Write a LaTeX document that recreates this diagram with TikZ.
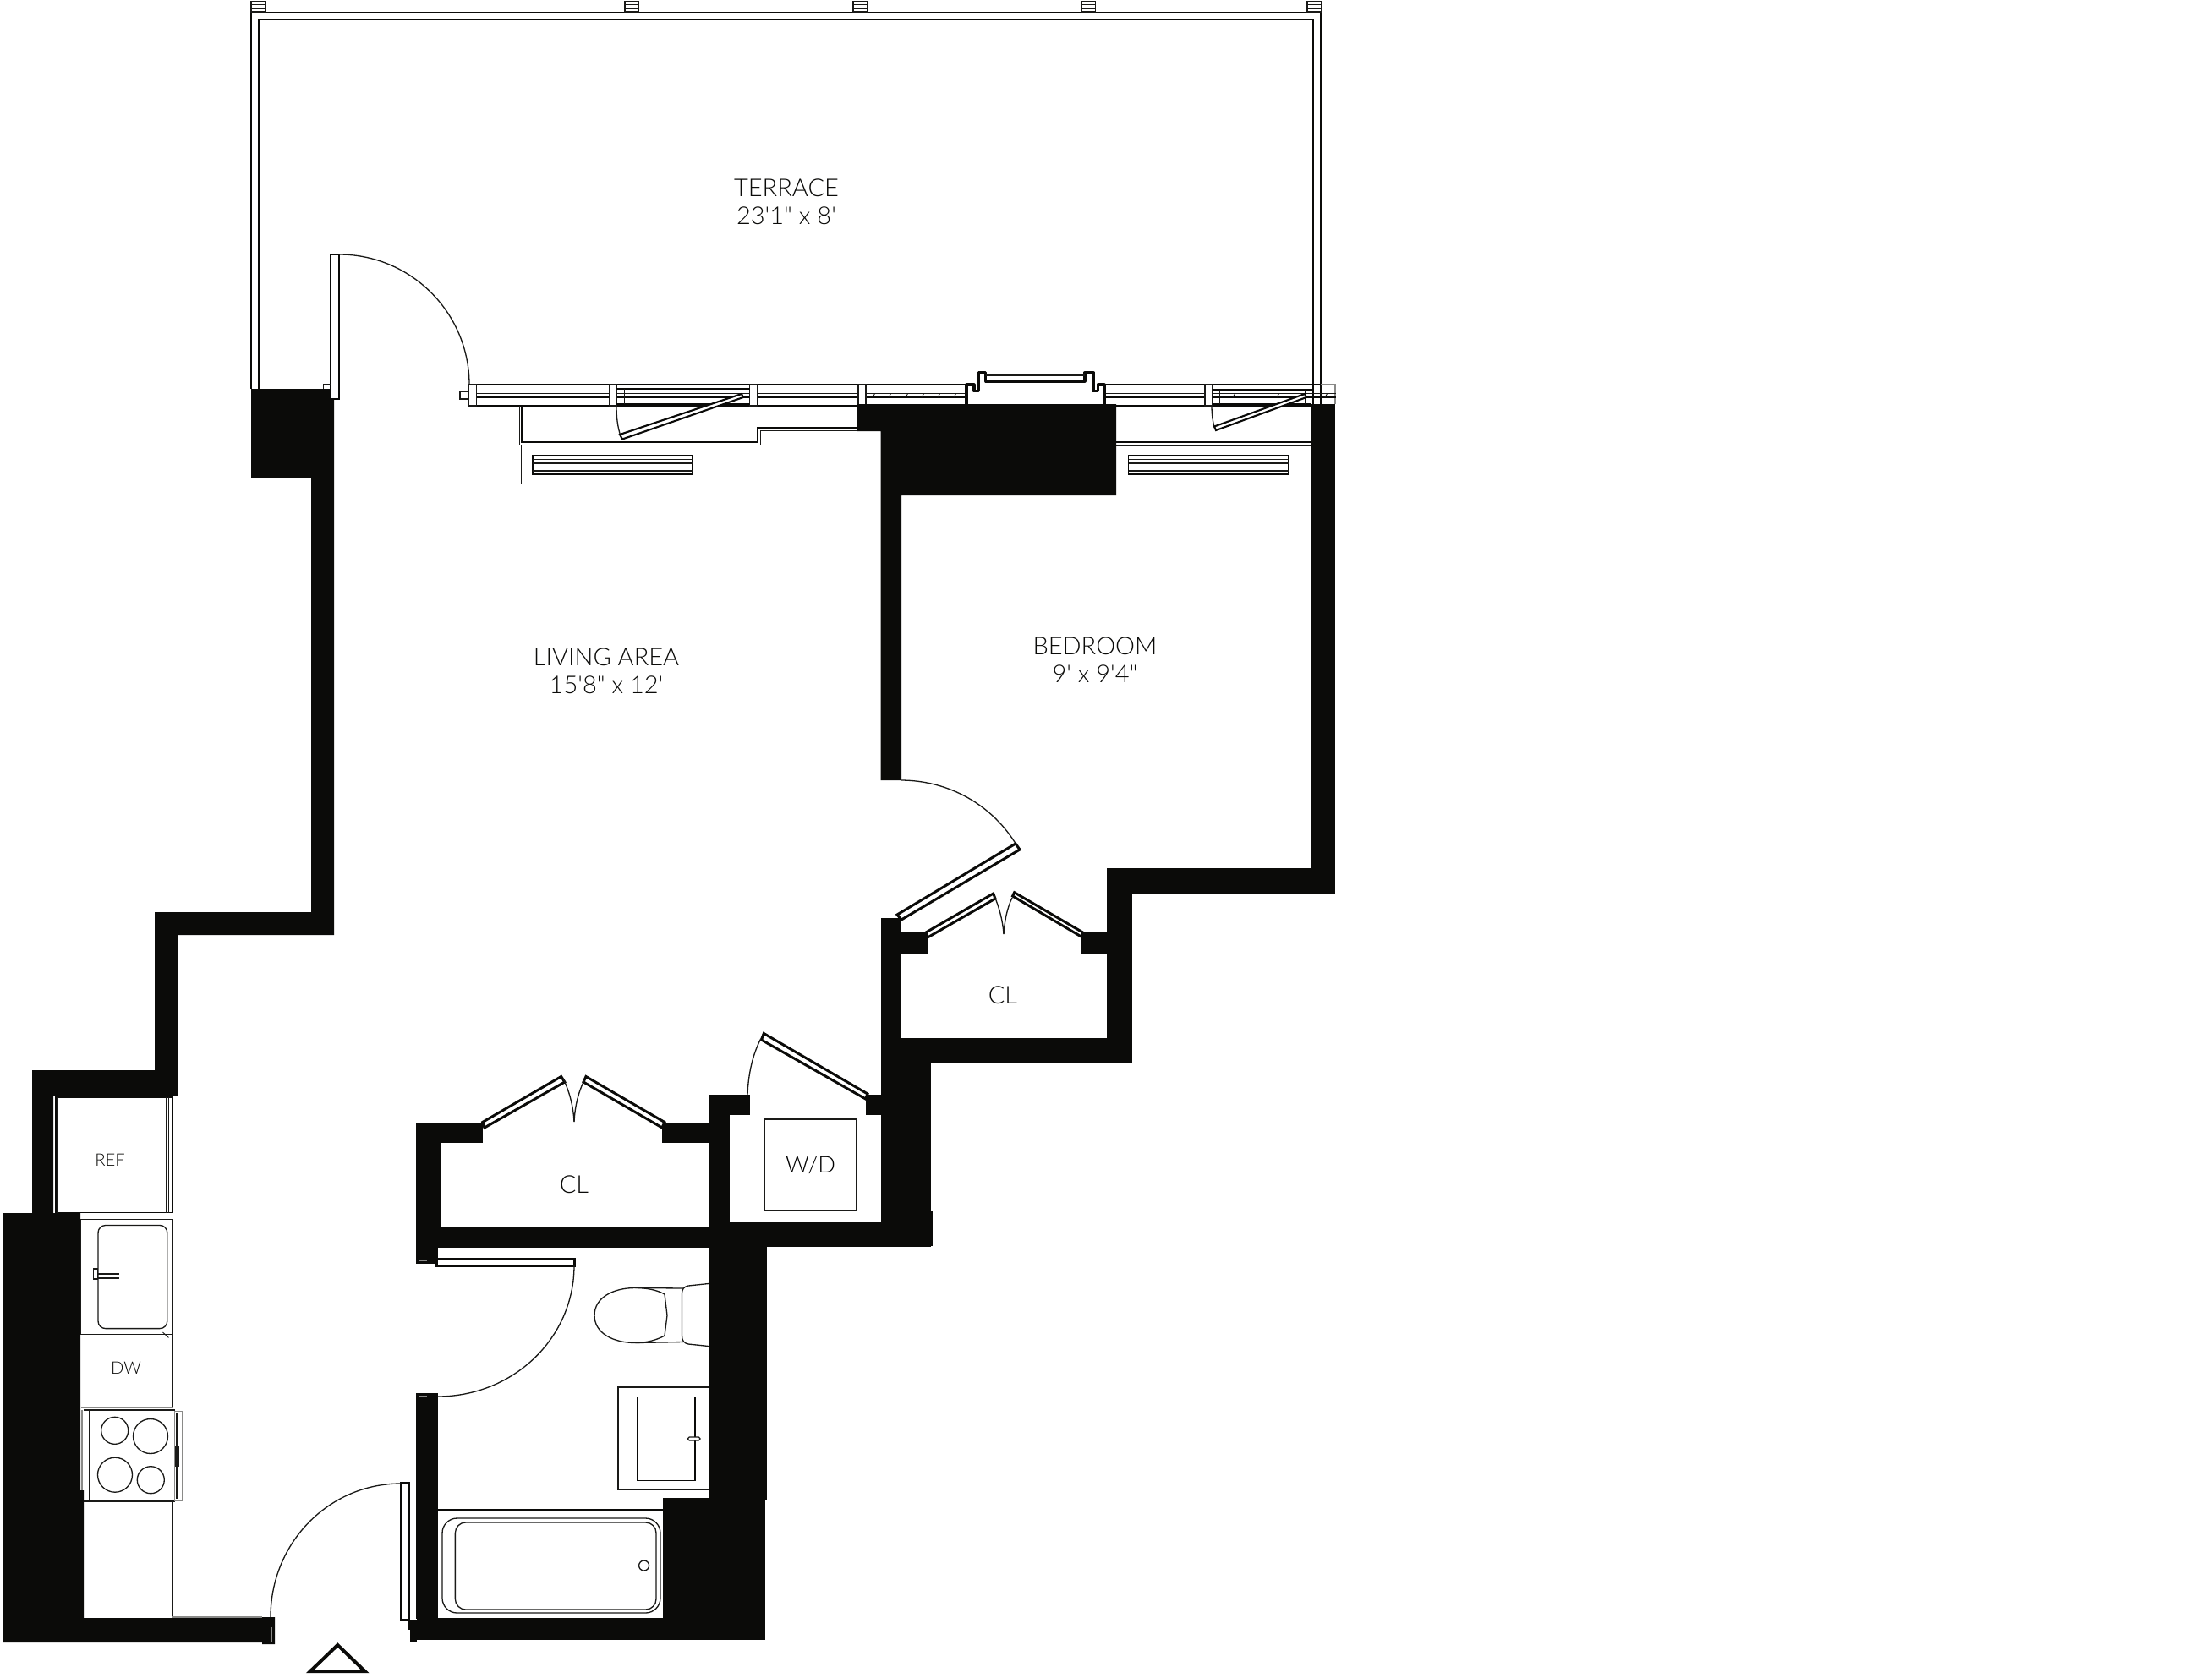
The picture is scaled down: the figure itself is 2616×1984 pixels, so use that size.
\documentclass[tikz,border=0pt]{standalone}
\usepackage{fontspec}
\newfontfamily\planfont{Lato Light}
\definecolor{wallc}{HTML}{0B0B09}
\definecolor{inkc}{HTML}{1A1A18}
\definecolor{greyc}{HTML}{8A8A88}
\tikzset{
  wall/.style={fill=wallc,draw=none},
  hair/.style={draw=inkc,line width=0.5pt},
  faint/.style={draw=greyc,line width=0.6pt},
  thinl/.style={draw=inkc,line width=0.75pt},
  medl/.style={draw=wallc,line width=1.1pt},
  thickl/.style={draw=wallc,line width=1.8pt,line join=round},
  leaf/.style={draw=wallc,fill=white,line width=1.7pt,line join=miter},
  arcl/.style={draw=inkc,line width=0.75pt},
  label/.style={font=\planfont\fontsize{16.5}{18.9}\selectfont,text=wallc,inner sep=0pt},
  small/.style={font=\planfont\fontsize{11.5}{14}\selectfont,text=wallc,inner sep=0pt}
}
\begin{document}
\begin{tikzpicture}[x=0.02cm,y=-0.02cm]
\useasboundingbox (0,0) rectangle (2616,1984);
\fill[white] (0,0) rectangle (2616,1984);

% Terrace railing
\draw[medl] (297,460) -- (297,14.5) -- (1562,14.5) -- (1562,478);
\draw[medl] (306,460) -- (306,23.5) -- (1553,23.5) -- (1553,478);
\foreach \px in {297,739,1009,1279,1546}{
  \draw[thinl] (\px,1.5) rectangle (\px+16.5,14);
  \draw[hair] (\px,5.5) -- (\px+16.5,5.5);
  \draw[hair] (\px,10) -- (\px+16.5,10);
}

% Window wall along terrace
\draw[medl] (554,455) -- (1143,455);
\draw[medl] (1306,455) -- (1562,455);
\draw[faint] (1562,455) -- (1579,455) -- (1579,478);
\draw[medl] (554,480) -- (1015,480);
\draw[medl] (1320,480) -- (1551,480);
\draw[medl] (554,455) -- (554,480);
\draw[thinl] (554,465.7) -- (1143,465.7);
\draw[medl] (554,470) -- (1143,470);
\draw[thinl] (1306,465.7) -- (1580,465.7);
\draw[medl] (1306,470) -- (1580,470);
\draw[thinl] (544,463) rectangle (554,472);
\foreach \ma/\mb in {554/563.3,720.7/729.3,886.7/896,1015/1024,1425/1433.6}{
  \fill[white] (\ma,456) rectangle (\mb,479);
  \draw[thinl] (\ma,455) rectangle (\mb,480);
}
\draw[medl] (729.3,460) -- (886.7,460);
\draw[medl] (729.3,478) -- (886.7,478);
\draw[thinl] (738.3,460) -- (738.3,478);
\draw[thinl] (877.7,460) -- (877.7,478);
\draw[medl] (1433.6,460.7) -- (1553,460.7);
\draw[medl] (1433.6,478) -- (1551,478);
\draw[thinl] (1442.8,460.7) -- (1442.8,478);
\draw[thinl] (1543.4,460.7) -- (1543.4,478);
\foreach \hx in {1032,1051,1071,1090,1109,1128,1458,1510,1567}{
  \draw[hair] (\hx,470) -- (\hx+2.5,465.7);
}
% Recessed frame
\fill[white] (1143,456) rectangle (1306,478);
\draw[thickl] (1143,478) -- (1143,455) -- (1152,455) -- (1152,462.7) -- (1157.7,462.7) -- (1157.7,440.7) -- (1165.7,440.7) -- (1165.7,451) -- (1283,451) -- (1283,440.7) -- (1293,440.7) -- (1293,462.7) -- (1298.5,462.7) -- (1298.5,455) -- (1306,455) -- (1306,478);
\draw[thinl] (1165.7,444) -- (1283,444);

% Radiator enclosure lines
\draw[thinl] (614.3,480) -- (614.3,526.7) -- (899.3,526.7) -- (899.3,509.3) -- (1013,509.3);
\draw[medl] (616.7,480) -- (616.7,522.7) -- (896,522.7) -- (896,506) -- (1013,506);
\draw[medl] (1320,522.7) -- (1551,522.7);
\draw[thinl] (1320,527.3) -- (1550,527.3);
\draw[hair] (1550,527.3) -- (1550,1027);

% Convectors
\draw[thinl] (616.7,526.7) -- (616.7,572.3) -- (832.7,572.3) -- (832.7,522.7);
\draw[medl] (630.3,538.7) rectangle (819.3,561.3);
\foreach \gy in {543.3,548,552.3,557}{\draw[thinl] (630.3,\gy) -- (819.3,\gy);}
\draw[thinl] (1320.7,572.3) -- (1537.3,572.3) -- (1537.3,522.7);
\draw[medl] (1334.5,538.7) rectangle (1523.5,561.3);
\foreach \gy in {543.3,548,552.3,557}{\draw[thinl] (1334.5,\gy) -- (1523.5,\gy);}

% Casement windows
\draw[arcl] (729,480) .. controls (729,492) and (730,504) .. (734,516);
\draw[leaf,line width=1.2pt] (877,466) -- (733,514) -- (736,519.5) -- (879,470) -- cycle;
\draw[arcl] (1433,480) .. controls (1433,489) and (1434,497) .. (1436,505);
\draw[leaf,line width=1.2pt] (1543,466) -- (1436,504.5) -- (1438,509) -- (1545,470) -- cycle;

% Walls
\fill[wall] (297,460) -- (395,460) -- (395,1106) -- (210,1106) -- (210,1296) -- (63,1296) -- (63,1435) -- (95,1435) -- (95,1763) -- (99,1763) -- (99,1914) -- (310,1914) -- (310,1913) -- (325,1913) -- (325,1945) -- (310,1945) -- (310,1943) -- (3,1943) -- (3,1435) -- (38,1435) -- (38,1266) -- (183,1266) -- (183,1079) -- (368,1079) -- (368,565) -- (297,565) -- cycle;
\fill[wall] (1013,478) -- (1320,478) -- (1320,586) -- (1066,586) -- (1066,923) -- (1041.5,923) -- (1041.5,510) -- (1013,510) -- cycle;
\fill[wall] (1551,478) rectangle (1579,1057);
\fill[wall] (1309,1027) rectangle (1579,1057);
\fill[wall] (1309,1027) rectangle (1339,1258);
\fill[wall] (1041.5,1086) rectangle (1064.5,1260);
\fill[wall] (1041.5,1228) rectangle (1339,1258);
\fill[wall] (1041.5,1258) rectangle (1101,1475);
\fill[wall] (1100,1432) rectangle (1102.5,1474);
\fill[wall] (1064,1103) rectangle (1097,1128);
\fill[wall] (1277.5,1103) rectangle (1310,1128);
\fill[wall] (862,1446) rectangle (1042,1475);
\fill[wall] (838,1295) rectangle (862.5,1476);
\fill[wall] (838,1295) rectangle (887,1319);
\fill[wall] (1024,1295) rectangle (1042,1319);
\fill[wall] (492,1327.5) rectangle (522,1475.5);
\fill[wall] (492,1451.5) rectangle (838,1475.5);
\fill[wall] (492,1327.5) rectangle (570.6,1351.5);
\fill[wall] (783,1327.5) rectangle (838,1351.5);
\fill[wall] (492,1475) rectangle (517.5,1495);
\fill[wall] (838,1475) rectangle (906.5,1775);
\fill[wall] (784,1772) rectangle (905,1940);
\fill[wall] (492.7,1913.5) rectangle (905,1940);
\fill[wall] (482.7,1916) rectangle (493,1928);
\fill[wall] (485,1927) rectangle (493,1942);
\fill[wall] (492,1648.3) rectangle (517.5,1915);
% light marks in door jambs
\draw[faint] (321.6,1925) -- (321.6,1942);
\draw[faint] (495,1491.5) -- (505,1491.5);
\draw[faint] (495,1651.5) -- (505,1651.5);

% Terrace door
\draw[leaf,line width=1.2pt] (391,301) rectangle (401.4,472);
\draw[thinl] (382.6,460) -- (382.6,454.6) -- (391,454.6);
\draw[arcl] (401,301) .. controls (486,301) and (555,370) .. (555,455);

% Bedroom door
\draw[arcl] (1065,923) .. controls (1122,923) and (1174,952) .. (1203,1001);
\draw[leaf] (1061,1082) -- (1066,1088) -- (1206,1005) -- (1201,998) -- cycle;

% Bedroom closet doors
\draw[leaf] (1095,1103) -- (1097,1109) -- (1177,1063) -- (1174.7,1057) -- cycle;
\draw[leaf] (1197.6,1060) -- (1199.6,1055.7) -- (1280.6,1103) -- (1278.7,1108) -- cycle;
\draw[arcl] (1176,1060) .. controls (1182,1074) and (1186,1090) .. (1187,1105);
\draw[arcl] (1197,1062) .. controls (1191,1074) and (1188,1090) .. (1187,1105);

% Living closet doors
\draw[leaf] (570.6,1327.5) -- (573,1334) -- (667.8,1280) -- (663.7,1273.5) -- cycle;
\draw[leaf] (690,1280) -- (693,1273.5) -- (786,1327.5) -- (783,1334) -- cycle;
\draw[arcl] (666,1276) .. controls (673,1290) and (678,1308) .. (679,1327);
\draw[arcl] (691,1278) .. controls (684,1292) and (680,1308) .. (679,1327);

% Laundry door and W/D
\draw[leaf] (900.4,1230) -- (903.3,1222.5) -- (1026,1294) -- (1023.7,1300) -- cycle;
\draw[arcl] (899.6,1229) .. controls (890,1248) and (885,1270) .. (884,1295);
\node[draw=inkc,line width=0.75pt,minimum width=108.2*0.02cm,minimum height=108*0.02cm,inner sep=0pt,font=\planfont\fontsize{15.5}{18}\selectfont] (wd) at (958.6,1378) {W/D};

% Bath door
\draw[leaf] (516,1489.5) rectangle (679,1497.5);
\draw[arcl] (679,1497) .. controls (679,1583) and (607,1652) .. (517.5,1652);

% Toilet
\draw[thinl] (751.4,1523.5) .. controls (725,1523.5) and (703,1535) .. (703,1556) .. controls (703,1577) and (725,1588.5) .. (751.4,1588.5) .. controls (765,1588.5) and (777,1585) .. (786,1580) -- (789,1556) -- (786,1531) .. controls (777,1526) and (765,1523.5) .. (751.4,1523.5);
\draw[thinl] (751.4,1523.5) -- (808,1524);
\draw[thinl] (751.4,1588.5) -- (808,1587.5);
\draw[thinl] (838,1518.5) -- (814,1521) .. controls (809,1522) and (806.5,1525) .. (806.5,1530) -- (806.5,1580) .. controls (806.5,1586) and (809,1589) .. (814,1590) -- (838,1592.5);

% Vanity
\draw[thinl] (838,1641) -- (731,1641) -- (731,1762.5) -- (838,1762.5);
\draw[medl] (753.5,1652.5) rectangle (821.6,1751.5);
\draw[thinl,fill=white,rounded corners=1pt] (813.5,1700) rectangle (828,1704);

% Tub
\draw[medl] (517.5,1786) -- (784,1786);
\draw[thinl,rounded corners=10pt] (523,1796) rectangle (781,1908);
\draw[thinl,rounded corners=7pt] (538.4,1801) rectangle (776,1904);
\draw[thinl] (761.6,1852) circle[radius=6];

% Refrigerator
\draw[medl] (65.7,1298) rectangle (204,1434.5);
\draw[hair] (68,1298) -- (68,1434.5);
\draw[hair] (199.5,1298) -- (199.5,1434.5);
\draw[hair] (196.6,1298) -- (196.6,1434.5);
\draw[hair] (95.7,1438) -- (204,1438);
\node[small] (ref) at (130,1372) {REF};

% Sink counter
\draw[thinl] (95.7,1442.5) rectangle (204,1578.6);
\draw[thinl,rounded corners=5pt] (116,1449.5) rectangle (197.8,1571.6);
\draw[thinl] (110.3,1501) rectangle (115.6,1513);
\draw[thinl] (115.6,1507) -- (140.8,1507);
\draw[thinl] (115.6,1512) -- (140.8,1512);
\draw[hair] (192.5,1576) -- (199.5,1582.4);

% Dishwasher
\draw[hair] (204.8,1578.6) -- (204.8,1665);
\draw[faint,line width=0.9pt] (95.7,1665) -- (204.8,1665);
\node[small] (dw) at (149,1618.5) {DW};

% Range
\draw[thinl] (106,1668) rectangle (206.7,1776);
\draw[faint] (97,1668) -- (97,1763);
\draw[thinl] (99,1668) -- (106,1668);
\draw[thinl] (99,1776) -- (106,1776);
\draw[faint,line width=0.9pt] (206.7,1669.5) rectangle (216,1775);
\draw[thinl] (209,1671.5) -- (209,1773);
\draw[hair] (207,1710) rectangle (211,1734.5);
\draw[thinl] (135.7,1692.3) circle[radius=16];
\draw[thinl] (178,1699) circle[radius=20.5];
\draw[thinl] (136,1744.7) circle[radius=20.5];
\draw[thinl] (178.3,1750.7) circle[radius=16];

% Lower counter
\draw[hair] (204,1776) -- (204,1914);
\draw[faint] (204,1913) -- (310,1913);

% Entry door
\draw[leaf,line width=1.3pt] (474,1754) rectangle (484,1916);
\draw[arcl] (474,1755) .. controls (389,1755) and (320,1825) .. (320,1913);

% North marker
\draw[draw=wallc,line width=2.3pt,line join=miter] (399.3,1946) -- (431.5,1977) -- (367,1977) -- cycle;

% Labels
\node[label,align=center] (terrace) at (930,239) {TERRACE\\23'1" x 8'};
\node[label,align=center] (living) at (717,794) {LIVING AREA\\15'8" x 12'};
\node[label,align=center] (bedroom) at (1295,781) {BEDROOM\\9' x 9'4"};
\node[label] (clA) at (679,1401) {CL};
\node[label] (clB) at (1186,1177) {CL};
\end{tikzpicture}
\end{document}
